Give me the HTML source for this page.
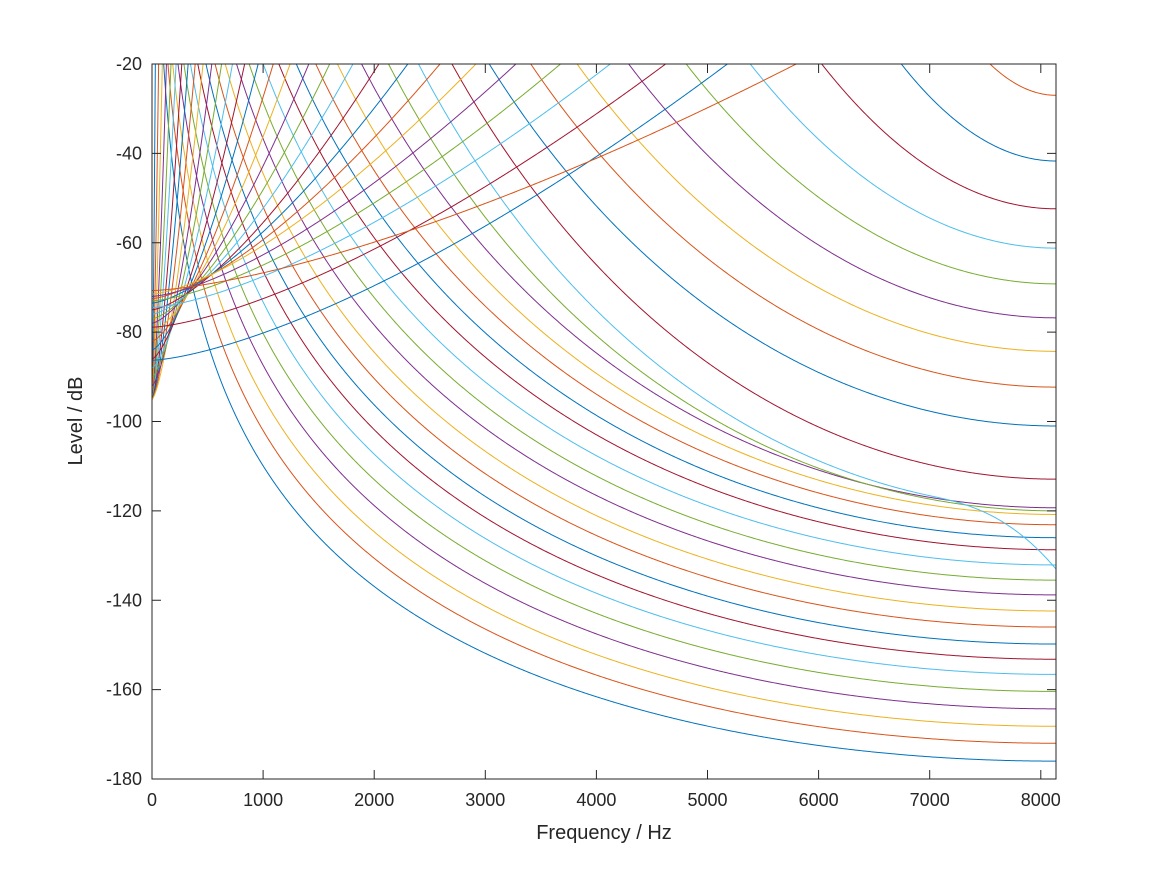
<!DOCTYPE html>
<html><head><meta charset="utf-8">
<style>
html,body{margin:0;padding:0;background:#fff;}
svg text{font-family:"Liberation Sans",sans-serif;fill:#262626;}
</style></head>
<body>
<svg id="s" width="1167" height="875" xmlns="http://www.w3.org/2000/svg">
<rect width="1167" height="875" fill="#fff"/>
<defs><clipPath id="c"><rect x="152" y="64" width="904" height="715"/></clipPath></defs>
<g id="curves" clip-path="url(#c)" fill="none" stroke-width="1"></g>
<g id="axes"></g>
<text x="604" y="839" font-size="20" text-anchor="middle">Frequency / Hz</text>
<text x="82" y="421" font-size="20" text-anchor="middle" transform="rotate(-90 82 421)">Level / dB</text>
</svg>
<script>
(function(){
var NS="http://www.w3.org/2000/svg";
var X0=152,X1=1056,Y0=64,Y1=779,fN=8136,k=0.1111;
function px(f){return X0+f*k;}
function py(d){return Y0+(-20-d)*(Y1-Y0)/160;}
var cols=["#0072BD","#D95319","#EDB120","#7E2F8E","#77AC30","#4DBEEE","#A2142F"];
var E=[-176,-172,-168.2,-164.3,-160.4,-156.6,-153.2,-149.8,-146,-142.4,-138.8,-135.5,-132.1,-128.7,-126,-123.1,-120.8,-119.3,-120,-119.6,-112.9,-101,-92.3,-84.3,-76.8,-69.2,-61.2,-52.4,-41.7,-27];
var S={29:-70.7,28:-86.3,27:-78.9,26:-74.5,25:-73,24:-72,23:-71.5,22:-72.5,21:-73.5,20:-75,19:-76,18:-77,17:-78,16:-80,15:-82,14:-84,13:-86,12:-88,11:-90,10:-92};
function h(f){return -Math.log(Math.sin(Math.PI*f/(2*fN)));}
var g=document.getElementById("curves");
for(var i=0;i<30;i++){
  var fd=2930*Math.pow(1.1145,i-20)-230;
  var fr=0.7755*(fd+230)-230;
  var s0=(S[i]!==undefined)?S[i]:-95;
  var sl=(E[i]+20)/(-h(fd));
  var d="";
  for(var n=0;n<=1200;n++){
    var f=fN*Math.pow(n/1200,2);
    var rise=s0+(-20-s0)*Math.pow(f/fr,1.45);
    var fall=(f<=0)?1e9:E[i]+sl*h(f);
    if(i==19&&f>7000){fall-=13.4*Math.pow((f-7000)/(fN-7000),2.5);}
    var L=Math.min(rise,fall);
    if(L>0)L=0;
    d+=(d?"L":"M")+px(f).toFixed(2)+" "+py(L).toFixed(2);
  }
  var p=document.createElementNS(NS,"path");
  p.setAttribute("d",d);p.setAttribute("stroke",cols[i%7]);
  g.appendChild(p);
}
var a=document.getElementById("axes");
var h2='<rect x="152" y="64" width="904" height="715" fill="none" stroke="#262626" stroke-width="1"/>';
for(var j=0;j<=8;j++){
  var x=px(j*1000);
  h2+='<line x1="'+x+'" y1="779" x2="'+x+'" y2="770" stroke="#262626"/>';
  h2+='<line x1="'+x+'" y1="64" x2="'+x+'" y2="73" stroke="#262626"/>';
  h2+='<text x="'+x+'" y="806" font-size="18" text-anchor="middle">'+(j*1000)+'</text>';
}
for(var j=0;j<=8;j++){
  var dB=-20-20*j, y=py(dB);
  h2+='<line x1="152" y1="'+y+'" x2="161" y2="'+y+'" stroke="#262626"/>';
  h2+='<line x1="1056" y1="'+y+'" x2="1047" y2="'+y+'" stroke="#262626"/>';
  h2+='<text x="142" y="'+(y+6)+'" font-size="18" text-anchor="end">'+dB+'</text>';
}
a.innerHTML=h2;
})();
</script>
</body></html>
